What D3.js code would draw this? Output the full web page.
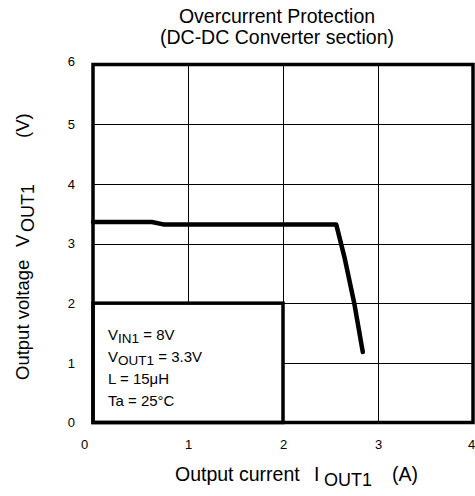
<!DOCTYPE html>
<html><head><meta charset="utf-8">
<script src="https://cdn.jsdelivr.net/npm/d3@7"></script>
<style>body{margin:0;background:#fff;} text{font-family:"Liberation Sans",Arial,sans-serif;fill:#000;white-space:pre;}</style>
</head><body>
<svg id="c" width="475" height="496"></svg>
<script>
const xTicks = [0, 1, 2, 3, 4];
const yTicks = [0, 1, 2, 3, 4, 5, 6];
const current = [0, 0.62, 0.74, 2.56, 2.65, 2.75, 2.84];
const voltage = [3.36, 3.36, 3.32, 3.32, 2.75, 2.0, 1.18];
const conditions = [
  {main: "V", sub: "IN1", rest: " = 8V"},
  {main: "V", sub: "OUT1", rest: " = 3.3V"},
  {main: "L = 15\u03BCH", sub: "", rest: ""},
  {main: "Ta = 25\u00B0C", sub: "", rest: ""}
];

const svg = d3.select("#c");
const x = d3.scaleLinear().domain([0, 4]).range([93, 473]);
const y = d3.scaleLinear().domain([0, 6]).range([422.5, 64.5]);

// grid
const g = svg.append("g");
g.selectAll(".vg").data(xTicks.slice(1, -1)).enter().append("line")
  .attr("x1", d => Math.round(x(d)) + 0.5).attr("x2", d => Math.round(x(d)) + 0.5)
  .attr("y1", y(6)).attr("y2", y(0)).attr("stroke", "#000").attr("stroke-width", 1);
g.selectAll(".hg").data(yTicks.slice(1, -1)).enter().append("line")
  .attr("y1", d => Math.round(y(d)) + 0.5).attr("y2", d => Math.round(y(d)) + 0.5)
  .attr("x1", x(0)).attr("x2", x(4)).attr("stroke", "#000").attr("stroke-width", 1);

// condition box
svg.append("rect").attr("x", x(0)).attr("y", y(2)).attr("width", x(2) - x(0)).attr("height", y(0) - y(2))
  .attr("fill", "#fff").attr("stroke", "#000").attr("stroke-width", 3.5);

// frame
svg.append("rect").attr("x", x(0)).attr("y", y(6)).attr("width", x(4) - x(0)).attr("height", y(0) - y(6))
  .attr("fill", "none").attr("stroke", "#000").attr("stroke-width", 3.5);

// curve
const pts = current.map((c, i) => [c, voltage[i]]);
svg.append("path").datum(pts)
  .attr("d", d3.line().x(d => x(d[0])).y(d => y(d[1])))
  .attr("fill", "none").attr("stroke", "#000").attr("stroke-width", 4.5)
  .attr("stroke-linejoin", "round").attr("stroke-linecap", "round");

// axes tick labels
const xa = d3.axisBottom(x).tickValues(xTicks).tickSize(0).tickPadding(0).tickFormat(d3.format("d"));
const gx = svg.append("g").attr("transform", "translate(0,440)").call(xa);
gx.select(".domain").remove();
gx.selectAll("text").attr("font-size", 13).attr("dy", "0.71em")
  .attr("dx", d => d === 0 ? -9 : (d === 4 ? -2 : 0)).style("font-family", "Liberation Sans, Arial, sans-serif");

const ya = d3.axisLeft(y).tickValues(yTicks).tickSize(0).tickPadding(0).tickFormat(d3.format("d"));
const gy = svg.append("g").attr("transform", "translate(75,0)").call(ya);
gy.select(".domain").remove();
gy.selectAll("text").attr("font-size", 13).attr("dy", d => d === 6 ? "0.05em" : "0.32em")
  .style("font-family", "Liberation Sans, Arial, sans-serif");

// title
const t = svg.append("text").attr("text-anchor", "middle").attr("font-size", 19.5);
t.append("tspan").attr("x", 277).attr("y", 23).text("Overcurrent Protection");
t.append("tspan").attr("x", 277).attr("y", 44).text("(DC-DC Converter section)");

// x label
const xl = svg.append("text").attr("y", 481).attr("font-size", 19.5);
xl.append("tspan").attr("x", 175).text("Output current");
xl.append("tspan").attr("x", 314).text("I");
xl.append("tspan").attr("x", 324).attr("font-size", 18).attr("dy", 5).text("OUT1");
xl.append("tspan").attr("x", 392).attr("dy", -5).text("(A)");

// y label
const yl = svg.append("text").attr("transform", "translate(29,380) rotate(-90)").attr("font-size", 18.5);
yl.append("tspan").attr("x", 0).text("Output voltage");
yl.append("tspan").attr("x", 133).text("V");
yl.append("tspan").attr("x", 148).attr("font-size", 18).attr("dy", 5).text("OUT1");
yl.append("tspan").attr("x", 242).attr("dy", -5).text("(V)");

// conditions
const ct = svg.append("g");
conditions.forEach((c, i) => {
  const tx = ct.append("text").attr("x", 108).attr("y", 340 + i * 22).attr("font-size", 15);
  tx.append("tspan").text(c.main);
  if (c.sub) {
    tx.append("tspan").attr("font-size", 13.5).attr("dy", 3).text(c.sub);
    tx.append("tspan").attr("dy", -3).text(c.rest);
  }
});
</script>
</body></html>
